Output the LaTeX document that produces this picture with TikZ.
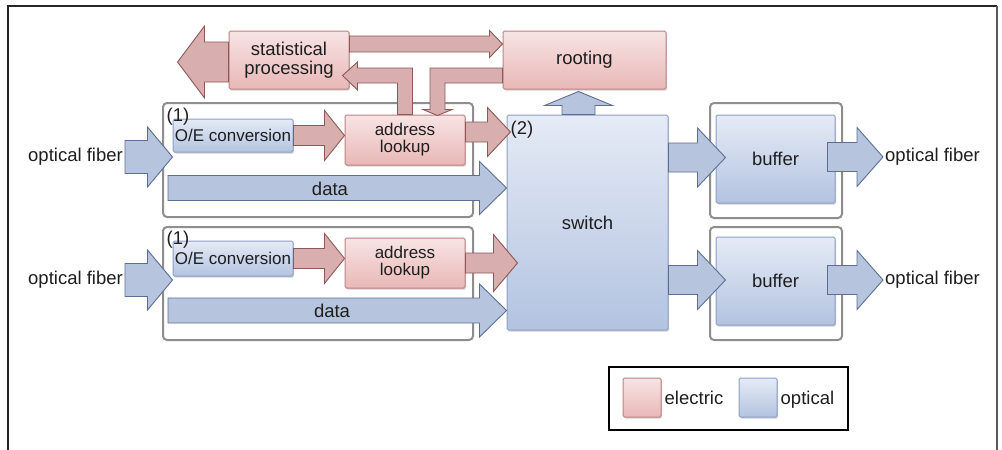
\documentclass[tikz,border=0pt]{standalone}
\usepackage{fontspec}
\setmainfont{Liberation Sans}
\usetikzlibrary{calc,shadows}

\definecolor{elecTop}{HTML}{F8E4E4}
\definecolor{elecBot}{HTML}{E9B7B7}
\definecolor{elecLine}{HTML}{BD8383}
\definecolor{elecArrow}{HTML}{D9AEAE}
\definecolor{elecArrowLine}{HTML}{8C5858}
\definecolor{optTop}{HTML}{E5EBF6}
\definecolor{optBot}{HTML}{B3C3E0}
\definecolor{optLine}{HTML}{8D9EC7}
\definecolor{optArrow}{HTML}{B6C4DD}
\definecolor{optArrowLine}{HTML}{5D6E92}
\definecolor{frameGray}{HTML}{8E8E8E}
\definecolor{ink}{HTML}{1E1E1E}

% horizontal block arrow: style, from, tip, half shaft, half head, head length (negative = pointing left)
\newcommand\harrow[6]{%
  \path[#1] let \p1=(#2), \p2=(#3) in
    (\x1,{\y2+#4pt}) -- ({\x2-(#6pt)},{\y2+#4pt}) -- ({\x2-(#6pt)},{\y2+#5pt})
    -- (\x2,\y2) -- ({\x2-(#6pt)},{\y2-#5pt}) -- ({\x2-(#6pt)},{\y2-#4pt})
    -- (\x1,{\y2-#4pt}) -- cycle;}
% vertical block arrow: style, from, tip, half shaft, half head, head length (negative = pointing down)
\newcommand\varrow[6]{%
  \path[#1] let \p1=(#2), \p2=(#3) in
    ({\x2+#4pt},\y1) -- ({\x2+#4pt},{\y2-(#6pt)}) -- ({\x2+#5pt},{\y2-(#6pt)})
    -- (\x2,\y2) -- ({\x2-#5pt},{\y2-(#6pt)}) -- ({\x2-#4pt},{\y2-(#6pt)})
    -- ({\x2-#4pt},\y1) -- cycle;}

\tikzset{
  every node/.style={font=\fontsize{18.5}{18.5}\selectfont, text=ink},
  small/.style={font=\fontsize{17}{17}\selectfont},
  softshadow/.style={drop shadow={shadow xshift=1.2pt, shadow yshift=-1.5pt, opacity=0.18, fill=black}},
  elecbox/.style={draw=elecLine, line width=1pt, top color=elecTop, bottom color=elecBot,
    rounded corners=1.5pt, inner sep=0pt, align=center, softshadow},
  optbox/.style={draw=optLine, line width=1pt, top color=optTop, bottom color=optBot,
    rounded corners=1.5pt, inner sep=0pt, align=center, softshadow},
  redarrow/.style={fill=elecArrow, draw=elecArrowLine, line width=0.9pt},
  bluearrow/.style={fill=optArrow, draw=optArrowLine, line width=0.9pt},
  group/.style={draw=frameGray, line width=2pt, rounded corners=4pt, fill=white},
  lbl/.style={inner sep=2pt}
}

\begin{document}
\begin{tikzpicture}[x=1pt,y=1pt]
\useasboundingbox (0,0) rectangle (1002,-450);

% page frame
\draw[line width=1.5pt, black!85] (8,-450) -- (8,-6) -- (997,-6);
\draw[line width=2.5pt, black!65] (997,-6) -- (997,-450);

% grouping frames
\node[group, minimum width=310pt, minimum height=114pt] (g1) at (318,-160) {};
\node[group, minimum width=310pt, minimum height=113pt] (g2) at (318,-283.5) {};
\node[group, minimum width=132pt, minimum height=115pt] (bf1) at (776,-160.5) {};
\node[group, minimum width=132pt, minimum height=113pt] (bf2) at (776,-283.5) {};

% electric blocks
\node[elecbox, minimum width=120pt, minimum height=58pt] (stat) at (289,-60) {statistical\\processing};
\node[elecbox, minimum width=163pt, minimum height=58pt] (rooting) at (584.5,-60) {rooting};
\node[elecbox, small, minimum width=120pt, minimum height=50pt] (al1) at (405,-140) {address\\lookup};
\node[elecbox, small, minimum width=120pt, minimum height=50pt] (al2) at (405,-263) {address\\lookup};

% optical blocks
\node[optbox, small, minimum width=120pt, minimum height=33pt] (oe1) at (233,-135.5) {O/E conversion};
\node[optbox, small, minimum width=120pt, minimum height=35pt] (oe2) at (233,-258.5) {O/E conversion};
\node[optbox, minimum width=161pt, minimum height=215pt] (sw) at (587.5,-222.5) {switch};
\node[optbox, minimum width=119pt, minimum height=88pt] (buf1) at (775.5,-159) {buffer};
\node[optbox, minimum width=119pt, minimum height=88pt] (buf2) at (775.5,-281) {buffer};

% fibre labels
\node[lbl, anchor=east] (fin1) at (125,-157) {optical fiber};
\node[lbl, anchor=east] (fin2) at (125,-280) {optical fiber};
\node[lbl, anchor=west] (fout1) at (883,-157) {optical fiber};
\node[lbl, anchor=west] (fout2) at (883,-280) {optical fiber};

% data paths
\coordinate (d1) at (168,-188);
\coordinate (d2) at (168,-310.5);
\harrow{bluearrow}{d1}{d1 -| sw.west}{12.5}{26.5}{27}
\harrow{bluearrow}{d2}{d2 -| sw.west}{12.5}{26.5}{27}
\node (data1) at (330,-189) {data};
\node (data2) at (332,-311) {data};

% incoming fibres
\harrow{bluearrow}{fin1.east}{fin1.east -| oe1.west}{16.5}{30}{25}
\harrow{bluearrow}{fin2.east}{fin2.east -| oe2.west}{16.5}{30}{25}

% O/E to address lookup
\harrow{redarrow}{oe1.east}{oe1.east -| al1.west}{10}{25}{20}
\harrow{redarrow}{oe2.east}{oe2.east -| al2.west}{10}{25}{20}

% address lookup to switch
\harrow{redarrow}{$(al1.east)+(0,8)$}{$(al1.east)+(45,8)$}{10}{24.5}{23}
\harrow{redarrow}{al2.east}{$(al2.east)+(52,0)$}{10}{28.5}{24}

% statistics and routing
\harrow{redarrow}{stat.west}{$(stat.west)+(-51,-2)$}{20}{36}{-27}
\harrow{redarrow}{$(stat.east)+(0,16)$}{$(rooting.west)+(0,16)$}{8}{13.5}{13}
\path[redarrow] let \p1=(al1.north), \p2=(stat.east) in
  ({\x1-7.5pt},\y1) -- ({\x1-7.5pt},{\y2-23pt}) -- ({\x2+8pt},{\y2-23pt})
  -- ({\x2+8pt},{\y2-30pt}) -- ({\x2-7pt},{\y2-15.5pt}) -- ({\x2+8pt},{\y2-2pt})
  -- ({\x2+8pt},{\y2-8pt}) -- ({\x1+7.5pt},{\y2-8pt}) -- ({\x1+7.5pt},\y1) -- cycle;
\path[redarrow] let \p1=(rooting.west), \p2=(al1.north) in
  (\x1,{\y1-8pt}) -- ({\x2+25pt},{\y1-8pt}) -- ({\x2+25pt},{\y2+5pt})
  -- ({\x2+18pt},{\y2+5pt}) -- ({\x2+32.5pt},{\y2-1pt}) -- ({\x2+47pt},{\y2+5pt})
  -- ({\x2+40pt},{\y2+5pt}) -- ({\x2+40pt},{\y1-23pt}) -- (\x1,{\y1-23pt}) -- cycle;

% switch to routing
\varrow{bluearrow}{$(sw.north)+(-9,0)$}{$(sw.north)+(-9,23)$}{16.5}{34}{14}

% switch to buffers, buffers to outgoing fibres
\harrow{bluearrow}{sw.east}{$(buf1.west)+(10,1.5)$}{14.5}{29.5}{28}
\harrow{bluearrow}{sw.east}{$(buf2.west)+(10,1)$}{14.5}{29.5}{28}
\harrow{bluearrow}{$(buf1.east)+(-8,0)$}{fout1.west}{14.5}{29.5}{26}
\harrow{bluearrow}{$(buf2.east)+(-8,0)$}{fout2.west}{14.5}{29.5}{26}

% markers
\node[inner sep=0pt] (m1a) at (178,-117) {(1)};
\node[inner sep=0pt] (m1b) at (178,-240) {(1)};
\node[inner sep=0pt] (m2) at (522,-130) {(2)};

% legend
\node[draw=black, line width=1.5pt, minimum width=239pt, minimum height=63pt] (legend) at (728.5,-398.5) {};
\node[elecbox, minimum width=38pt, minimum height=39pt] (swE) at (642,-397.5) {};
\node[lbl, anchor=base west] (tE) at ($(swE.east)+(1,-6.5)$) {electric};
\node[optbox, minimum width=38pt, minimum height=39pt] (swO) at (758,-397.5) {};
\node[lbl, anchor=base west] (tO) at ($(swO.east)+(1,-6.5)$) {optical};
\end{tikzpicture}
\end{document}
